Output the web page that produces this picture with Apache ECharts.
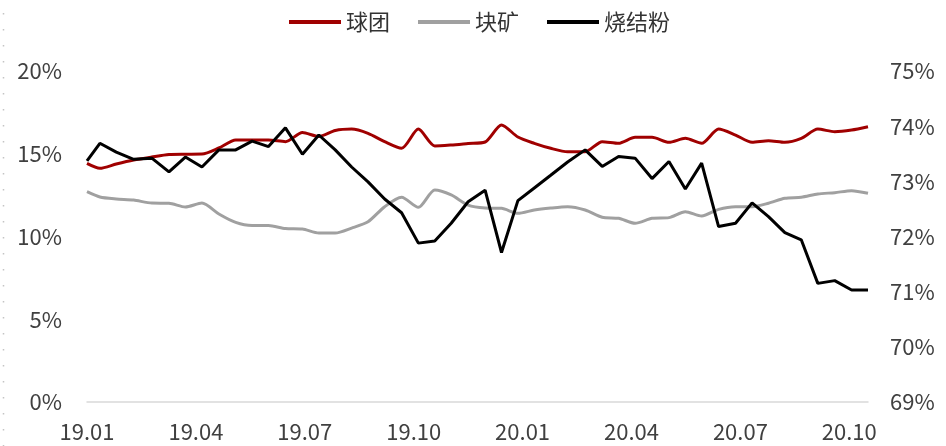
<!DOCTYPE html>
<html>
<head>
<meta charset="utf-8">
<script src="https://cdn.jsdelivr.net/npm/echarts@6/dist/echarts.min.js"></script>
<style>
  html, body { margin: 0; padding: 0; background: #fff; }
  #chart { width: 946px; height: 446px; }
</style>
</head>
<body>
<div id="chart"></div>
<script>
// 双周数据日期
var dates = ['2019-01-04', '2019-01-15', '2019-01-29', '2019-02-12', '2019-02-26', '2019-03-12',
    '2019-03-26', '2019-04-09', '2019-04-23', '2019-05-07', '2019-05-21', '2019-06-04',
    '2019-06-18', '2019-07-02', '2019-07-16', '2019-07-30', '2019-08-13', '2019-08-27',
    '2019-09-10', '2019-09-24', '2019-10-08', '2019-10-22', '2019-11-05', '2019-11-19',
    '2019-12-03', '2019-12-17', '2019-12-31', '2020-01-14', '2020-01-28', '2020-02-11',
    '2020-02-25', '2020-03-10', '2020-03-24', '2020-04-07', '2020-04-21', '2020-05-05',
    '2020-05-19', '2020-06-02', '2020-06-16', '2020-06-30', '2020-07-14', '2020-07-28',
    '2020-08-11', '2020-08-25', '2020-09-08', '2020-09-22', '2020-10-06', '2020-10-20'];

// 球团 (左轴, %)
var pellet = [14.42, 14.12, 14.38, 14.62, 14.80, 14.95, 14.97, 14.98, 15.35, 15.83, 15.83, 15.83,
    15.73, 16.28, 16.04, 16.40, 16.49, 16.23, 15.73, 15.33, 16.49, 15.47, 15.53, 15.62,
    15.71, 16.74, 16.01, 15.63, 15.33, 15.12, 15.12, 15.73, 15.63, 15.99, 15.99, 15.69,
    15.93, 15.63, 16.49, 16.13, 15.69, 15.79, 15.69, 15.93, 16.49, 16.33, 16.43, 16.63];

// 块矿 (左轴, %)
var lump = [12.71, 12.39, 12.27, 12.20, 12.02, 12.01, 11.78, 12.02, 11.36, 10.85, 10.66, 10.66,
    10.48, 10.45, 10.21, 10.21, 10.51, 10.89, 11.80, 12.37, 11.76, 12.81, 12.51, 11.90,
    11.72, 11.70, 11.40, 11.60, 11.72, 11.80, 11.60, 11.16, 11.10, 10.80, 11.10, 11.14,
    11.50, 11.24, 11.64, 11.80, 11.80, 12.01, 12.31, 12.37, 12.57, 12.65, 12.77, 12.61];

// 烧结粉 (右轴, %)
var sinter = [73.37, 73.69, 73.53, 73.40, 73.42, 73.17, 73.44, 73.26, 73.57, 73.57, 73.73, 73.63,
    73.97, 73.49, 73.84, 73.57, 73.26, 72.99, 72.68, 72.43, 71.88, 71.92, 72.24, 72.63,
    72.84, 71.71, 72.65, 72.88, 73.11, 73.35, 73.57, 73.27, 73.45, 73.42, 73.05, 73.36,
    72.86, 73.33, 72.18, 72.24, 72.61, 72.36, 72.07, 71.94, 71.15, 71.20, 71.03, 71.03];

var seriesNames = ['球团', '块矿', '烧结粉'];
var leftTicks = [0, 5, 10, 15, 20];
var rightTicks = [69, 70, 71, 72, 73, 74, 75];

// 日期 -> 距首日的月数 (x轴按月计, 每3个月一个标签)
var startDay = 4;
function toMonth(str) {
    var p = str.split('-');
    var y = +p[0], m = +p[1], d = +p[2];
    var dim = new Date(Date.UTC(y, m, 0)).getUTCDate();
    return (y - 2019) * 12 + (m - 1) + (d - startDay) / dim;
}
function pairs(values) {
    var out = [];
    for (var i = 0; i < dates.length; i++) {
        out.push([toMonth(dates[i]), values[i]]);
    }
    return out;
}

var font = 'Noto Sans CJK SC';
var textColor = '#404040';

var myChart = echarts.init(document.getElementById('chart'), null, { renderer: 'canvas' });

var option = {
    animation: false,
    backgroundColor: '#ffffff',
    textStyle: { fontFamily: font },
    legend: {
        top: 6,
        left: 284,
        icon: 'rect',
        itemWidth: 52,
        itemHeight: 4,
        itemGap: 28,
        textStyle: { fontSize: 22, color: '#333', fontFamily: font },
        data: seriesNames
    },
    grid: {
        left: 87,
        right: 78,
        top: 71,
        bottom: 44
    },
    xAxis: {
        type: 'value',
        min: 0,
        max: toMonth(dates[dates.length - 1]),
        interval: 3,
        axisTick: { show: false },
        splitLine: { show: false },
        axisLine: { lineStyle: { color: '#d9d9d9', width: 1.5 } },
        axisLabel: {
            showMaxLabel: false,
            margin: 19,
            fontSize: 22,
            color: textColor,
            fontFamily: font,
            formatter: function (v) {
                var n = Math.round(v);
                var yy = 19 + Math.floor(n / 12);
                var mm = n % 12 + 1;
                return yy + '.' + (mm < 10 ? '0' + mm : mm);
            }
        }
    },
    yAxis: [{
        type: 'value',
        min: leftTicks[0],
        max: leftTicks[leftTicks.length - 1],
        interval: 5,
        axisLine: { show: false },
        axisTick: { show: false },
        splitLine: { show: false },
        axisLabel: {
            margin: 25,
            fontSize: 22,
            color: textColor,
            fontFamily: font,
            formatter: '{value}%'
        }
    }, {
        type: 'value',
        min: rightTicks[0],
        max: rightTicks[rightTicks.length - 1],
        interval: 1,
        axisLine: { show: false },
        axisTick: { show: false },
        splitLine: { show: false },
        axisLabel: {
            margin: 22,
            fontSize: 22,
            color: textColor,
            fontFamily: font,
            formatter: '{value}%'
        }
    }],
    graphic: [{
        // 左侧虚线边框
        type: 'line',
        silent: true,
        shape: { x1: 3.5, y1: 13, x2: 3.5, y2: 446 },
        style: { stroke: '#c4c4c4', lineWidth: 1.5, lineDash: [1.5, 14.5] }
    }],
    series: [{
        name: seriesNames[0],
        type: 'line',
        yAxisIndex: 0,
        showSymbol: false,
        smooth: 0.25,
        lineStyle: { width: 3, color: '#a00000' },
        itemStyle: { color: '#a00000' },
        data: pairs(pellet)
    }, {
        name: seriesNames[1],
        type: 'line',
        yAxisIndex: 0,
        showSymbol: false,
        smooth: 0.25,
        lineStyle: { width: 3, color: '#a0a0a0' },
        itemStyle: { color: '#a0a0a0' },
        data: pairs(lump)
    }, {
        name: seriesNames[2],
        type: 'line',
        yAxisIndex: 1,
        showSymbol: false,
        lineStyle: { width: 3, color: '#000000' },
        itemStyle: { color: '#000000' },
        data: pairs(sinter)
    }]
};

myChart.setOption(option);
</script>
</body>
</html>
